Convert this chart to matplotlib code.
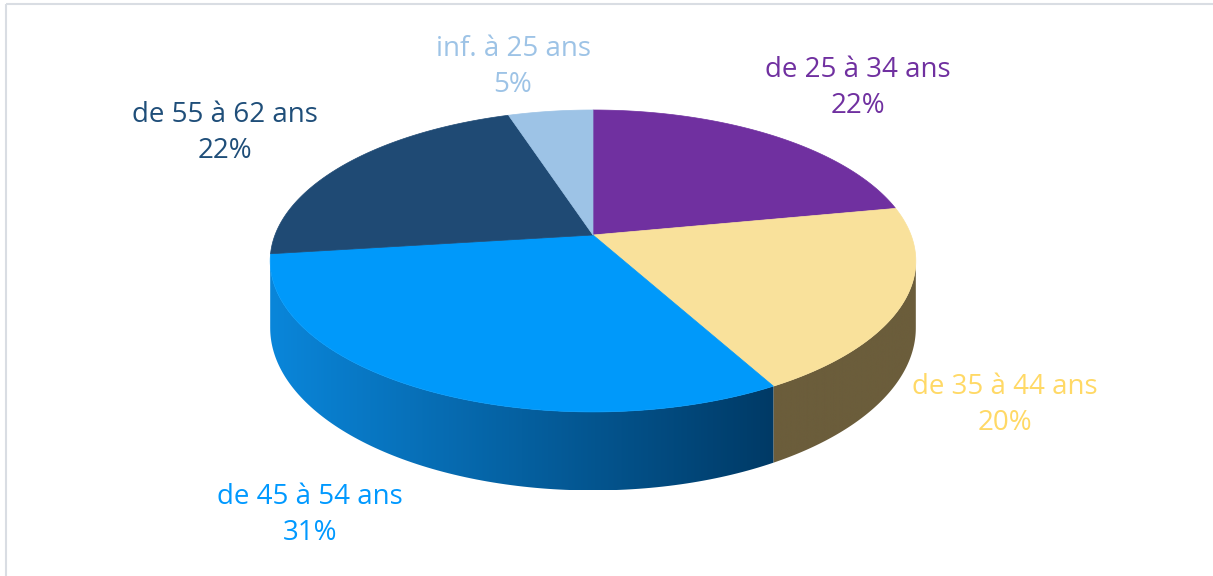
import math
import numpy as np
import matplotlib.pyplot as plt
from matplotlib.patches import Polygon, Rectangle

# ============== DATA ==============
# slices in drawing order, clockwise from 12 o'clock
categories = ["de 25 à 34 ans", "de 35 à 44 ans", "de 45 à 54 ans", "de 55 à 62 ans", "inf. à 25 ans"]
values = [22, 20, 31, 22, 5]
top_colors = ["#7030A0", "#F9E19B", "#0099FA", "#1F4A74", "#9DC3E6"]
label_colors = ["#7030A0", "#FFD966", "#0099FF", "#1F4E79", "#9DC3E6"]
side_colors = [("#5a2680", "#5a2680"), ("#6b5d3b", "#6b5d3b"),
               ("#0a86da", "#003a66"), ("#173a58", "#173a58"), ("#7a9bb8", "#7a9bb8")]
label_pos = [(858, 88), (1005, 405), (310, 515), (225, 133), (513, 67)]

# ============== GEOMETRY ==============
W, H = 1213, 576
cx, cy = 593, 235      # centre of the pie (vertex)
B, A = 318, 146.5      # horizontal / vertical radius
p = 0.172              # perspective
D = 65                 # thickness


def proj(theta, depth=0.0):
    t = math.radians(theta)
    x = math.sin(t)
    y = -math.cos(t)
    s = 1.0 / (1.0 - p * y)
    return cx + B * x * s, cy + A * y * s + D * s * depth


def arc(a0, a1, depth=0.0, n=120):
    return [proj(a, depth) for a in np.linspace(a0, a1, n)]


def hex2rgb(h):
    h = h.lstrip("#")
    return np.array([int(h[i:i + 2], 16) / 255 for i in (0, 2, 4)])


fig = plt.figure(figsize=(W / 100, H / 100), dpi=100)
ax = fig.add_axes([0, 0, 1, 1])
ax.set_xlim(0, W)
ax.set_ylim(H, 0)
ax.axis("off")

# chart border
ax.add_patch(Rectangle((6, 4), W + 20, H + 20, fill=False, edgecolor="#d9dde3", lw=1.5))

total = sum(values)
starts = []
acc = 0
for v in values:
    starts.append(acc / total * 360)
    acc += v

# silhouette of the side (perspective moves it a bit to the front)
sil = math.degrees(math.asin(p))

# ---- side faces (front half only) ----
for i, v in enumerate(values):
    a0 = starts[i]
    a1 = a0 + v / total * 360
    lo, hi = max(a0, 90 + sil), min(a1, 270 - sil)
    if lo >= hi:
        continue
    pts = arc(lo, hi) + arc(hi, lo, depth=1)
    poly = Polygon(pts, closed=True, facecolor="none", edgecolor="none")
    ax.add_patch(poly)
    c_left, c_right = hex2rgb(side_colors[i][0]), hex2rgb(side_colors[i][1])
    xs = [q[0] for q in pts]
    ys = [q[1] for q in pts]
    x0, x1 = min(xs), max(xs)
    grad = np.linspace(0, 1, 256)
    img = np.zeros((2, 256, 3))
    for k in range(3):
        img[:, :, k] = c_right[k] * grad + c_left[k] * (1 - grad)
    im = ax.imshow(img, extent=(x0, x1, max(ys), min(ys)), aspect="auto", zorder=1)
    im.set_clip_path(poly)

# ---- top faces ----
for i, v in enumerate(values):
    a0 = starts[i]
    a1 = a0 + v / total * 360
    pts = [(cx, cy)] + arc(a0, a1)
    ax.add_patch(Polygon(pts, closed=True, facecolor=top_colors[i],
                         edgecolor=top_colors[i], lw=0.5, zorder=2))

# ---- labels ----
for i, cat in enumerate(categories):
    x, y = label_pos[i]
    ax.text(x, y, cat + "\n" + str(values[i]) + "%", color=label_colors[i],
            fontsize=20, family="Open Sans", ha="center", va="center",
            linespacing=1.35, zorder=3)

fig.savefig("out.png", dpi=100)
